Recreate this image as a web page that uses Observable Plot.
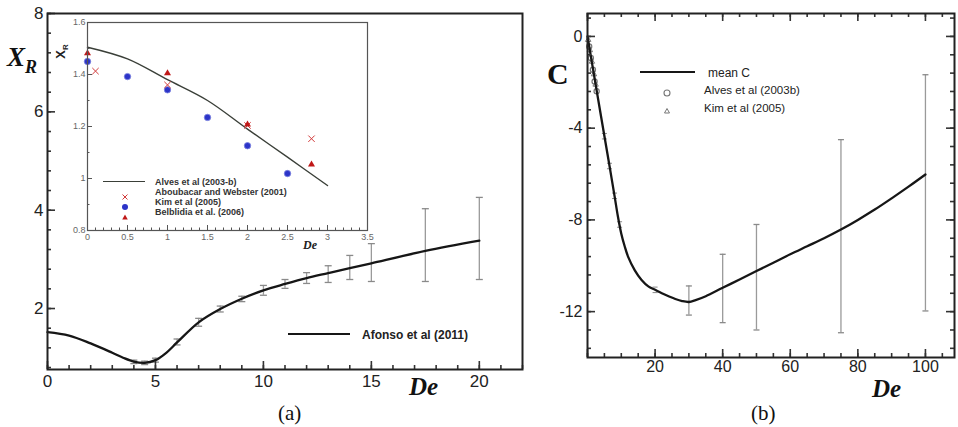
<!DOCTYPE html>
<html><head><meta charset="utf-8">
<script src="https://cdn.jsdelivr.net/npm/d3@7"></script>
<script src="https://cdn.jsdelivr.net/npm/@observablehq/plot@0.6"></script>
<style>
body{margin:0;background:#fff;}
#wrap{position:relative;width:958px;height:427px;overflow:hidden;font-family:"Liberation Sans",Arial,sans-serif;background:#fff;}
.abs{position:absolute;white-space:nowrap;line-height:1;}
#wrap > svg{position:absolute;}
</style></head><body><div id="wrap">
<div class="abs" style="left:7px;top:42px;font:italic bold 27px 'Liberation Serif';color:#111">X<span style="font-size:18px;position:relative;top:7px">R</span></div>
<div class="abs" style="left:409px;top:373px;font:italic bold 25px 'Liberation Serif';color:#111">De</div>
<div class="abs" style="left:278px;top:401px;font:21px 'Liberation Serif';color:#111">(a)</div>
<div class="abs" style="left:547px;top:57px;font:bold 30px 'Liberation Serif';color:#111">C</div>
<div class="abs" style="left:872px;top:375px;font:italic bold 25px 'Liberation Serif';color:#111">De</div>
<div class="abs" style="left:751px;top:401px;font:21px 'Liberation Serif';color:#111">(b)</div>
</div>
<script>
// ---------- Panel (a): main curve (Afonso et al 2011) ----------
const afonsoDe = [0, 1, 2, 3, 3.5, 4, 4.5, 5, 5.5, 6, 7, 8, 9, 10, 11, 12, 13, 14, 15, 17.5, 20];
const afonsoXR = [1.52, 1.45, 1.29, 1.10, 1.0, 0.92, 0.895, 0.95, 1.1, 1.31, 1.72, 1.99, 2.2, 2.37, 2.5, 2.62, 2.72, 2.82, 2.92, 3.17, 3.38];
const aErrDe = [4, 4.5, 5, 6, 7, 8, 9, 10, 11, 12, 13, 14, 15, 17.5, 20];
const aErrLo = [0.88, 0.86, 0.91, 1.26, 1.64, 1.93, 2.14, 2.27, 2.41, 2.51, 2.53, 2.59, 2.55, 2.55, 2.59];
const aErrHi = [0.95, 0.93, 0.99, 1.38, 1.8, 2.05, 2.25, 2.47, 2.59, 2.73, 2.87, 3.08, 3.32, 4.03, 4.26];
const aTicksX = [0, 5, 10, 15, 20];
const aTicksY = [2, 4, 6, 8];

// ---------- Inset ----------
const alvesDe = [0, 0.5, 1, 1.5, 2, 2.5, 3];
const alvesXR = [1.505, 1.46, 1.38, 1.30, 1.19, 1.082, 0.973];
const kimDe = [0, 0.5, 1, 1.5, 2, 2.5];
const kimXR = [1.45, 1.392, 1.341, 1.235, 1.126, 1.019];
const aboubDe = [0.1, 1, 2, 2.8];
const aboubXR = [1.413, 1.36, 1.204, 1.153];
const belbDe = [0, 1, 2, 2.8];
const belbXR = [1.482, 1.405, 1.208, 1.054];
const inTicksX = [0, 0.5, 1, 1.5, 2, 2.5, 3, 3.5];
const inTicksY = [0.8, 1, 1.2, 1.4, 1.6];

// ---------- Panel (b): mean C ----------
const cDe = [0, 2, 4, 6, 8, 9, 10, 11, 12, 14, 16, 18, 20, 22, 24, 26, 28, 30, 32, 35, 40, 45, 50, 55, 60, 65, 70, 75, 80, 85, 90, 95, 100];
const cVal = [0, -1.74, -3.48, -5.2, -6.95, -7.85, -8.6, -9.15, -9.6, -10.2, -10.62, -10.9, -11.05, -11.2, -11.33, -11.45, -11.54, -11.58, -11.5, -11.33, -10.96, -10.6, -10.23, -9.87, -9.5, -9.15, -8.8, -8.42, -8.0, -7.55, -7.06, -6.55, -6.02];
const bErrDe = [30, 40, 50, 75, 100];
const bErrLo = [-12.15, -12.48, -12.8, -12.92, -11.97];
const bErrHi = [-10.88, -9.5, -8.2, -4.5, -1.67];
const bSmallDe = [5, 6.5, 8, 9.5, 20];
const bSmallC = [-4.35, -5.65, -6.95, -8.2, -11.05];
const bAlvesDe = [0.5, 1.0, 1.6, 2.1, 2.7];
const bAlvesC = [-0.44, -0.94, -1.45, -1.96, -2.39];
const bKimDe = [0.2, 0.7, 1.3, 1.9, 2.4];
const bKimC = [-0.15, -0.6, -1.1, -1.65, -2.1];
const bTicksX = [20, 40, 60, 80, 100];
const bTicksY = [0, -4, -8, -12];

const wrap = document.getElementById("wrap");
const zip = (xs, ys) => xs.map((x, i) => ({x, y: ys[i]}));
const zip3 = (xs, lo, hi) => xs.map((x, i) => ({x, lo: lo[i], hi: hi[i]}));
const cap = w => ({draw(ctx) { ctx.moveTo(-w, 0); ctx.lineTo(w, 0); }});
const fmt = d => String(d);

function tickMarks({xMaj, xMin, yMaj, yMin, iw, ih, Lmaj, Lmin, mirror, stroke, sw}) {
  const o = {stroke, strokeWidth: sw};
  const m = [
    Plot.tickX(xMaj, {x: d => d, insetTop: ih - Lmaj, ...o}),
    Plot.tickX(xMin, {x: d => d, insetTop: ih - Lmin, ...o}),
    Plot.tickY(yMaj, {y: d => d, insetRight: iw - Lmaj, ...o}),
    Plot.tickY(yMin, {y: d => d, insetRight: iw - Lmin, ...o})
  ];
  if (mirror) m.push(
    Plot.tickX(xMaj, {x: d => d, insetBottom: ih - Lmaj, ...o}),
    Plot.tickX(xMin, {x: d => d, insetBottom: ih - Lmin, ...o}),
    Plot.tickY(yMaj, {y: d => d, insetLeft: iw - Lmaj, ...o}),
    Plot.tickY(yMin, {y: d => d, insetLeft: iw - Lmin, ...o})
  );
  return m;
}

function place(svg, left, top) {
  svg.style.left = left + "px";
  svg.style.top = top + "px";
  wrap.appendChild(svg);
}

// ----- Panel (a) -----
{
  const W = 540, H = 400, ml = 47, mr = 18, mt = 13, mb = 31;
  const iw = W - ml - mr, ih = H - mt - mb;
  const err = zip3(aErrDe, aErrLo, aErrHi);
  const p = Plot.plot({
    width: W, height: H, marginLeft: ml, marginRight: mr, marginTop: mt, marginBottom: mb,
    style: {fontSize: "17px", fontFamily: "Liberation Sans, Arial, sans-serif", background: "transparent", color: "#222", overflow: "visible"},
    x: {domain: [0, 22], axis: null},
    y: {domain: [0.76, 8], axis: null},
    marks: [
      Plot.ruleX(err, {x: "x", y1: "lo", y2: "hi", stroke: "#9a9a9a", strokeWidth: 1.3}),
      Plot.dot(err, {x: "x", y: "lo", symbol: cap(3.5), stroke: "#8a8a8a", fill: "none", strokeWidth: 1.3}),
      Plot.dot(err, {x: "x", y: "hi", symbol: cap(3.5), stroke: "#8a8a8a", fill: "none", strokeWidth: 1.3}),
      Plot.line(zip(afonsoDe, afonsoXR), {x: "x", y: "y", curve: "catmull-rom", stroke: "#161616", strokeWidth: 2.3}),
      ...tickMarks({xMaj: aTicksX, xMin: d3.range(0, 23, 1), yMaj: aTicksY, yMin: d3.range(2, 21).map(i => i * 0.4),
        iw, ih, Lmaj: 8, Lmin: 4, mirror: false, stroke: "#333", sw: 1.6}),
      Plot.axisX(aTicksX, {tickSize: 0, tickPadding: 5, label: null, tickFormat: fmt}),
      Plot.axisY(aTicksY, {tickSize: 0, tickPadding: 4, label: null, tickFormat: fmt}),
      Plot.frame({stroke: "#222", strokeWidth: 2})
    ]
  });
  place(p, 0, 0);
}

// ----- Inset -----
{
  const L = 50, T = 10, W = 330, H = 245;
  const ml = 87 - L, mt = 22 - T, mr = W - (367 - L), mb = H - (230 - T);
  const iw = W - ml - mr, ih = H - mt - mb;
  const p = Plot.plot({
    width: W, height: H, marginLeft: ml, marginRight: mr, marginTop: mt, marginBottom: mb,
    style: {fontSize: "9px", fontFamily: "Liberation Sans, Arial, sans-serif", background: "transparent", color: "#666", overflow: "visible"},
    x: {domain: [0, 3.5], axis: null},
    y: {domain: [0.8, 1.6], axis: null},
    marks: [
      Plot.frame({fill: "white"}),
      Plot.line(zip(alvesDe, alvesXR), {x: "x", y: "y", curve: "catmull-rom", stroke: "#3a3f38", strokeWidth: 1.4}),
      Plot.dot(zip(kimDe, kimXR), {x: "x", y: "y", r: 3.2, fill: "#2c34c8", stroke: "#7a82e0", strokeWidth: 0.8}),
      Plot.dot(zip(aboubDe, aboubXR), {x: "x", y: "y", symbol: "times", r: 3, stroke: "#d23a3a", strokeWidth: 1}),
      Plot.dot(zip(belbDe, belbXR), {x: "x", y: "y", symbol: "triangle", r: 2.6, fill: "#c01818", stroke: "none"}),
      ...tickMarks({xMaj: inTicksX, xMin: d3.range(0, 36).map(i => i / 10), yMaj: inTicksY, yMin: d3.range(8, 17).map(i => i / 10),
        iw, ih, Lmaj: 5, Lmin: 2.5, mirror: false, stroke: "#555", sw: 1}),
      Plot.axisX(inTicksX, {tickSize: 0, tickPadding: 3, label: null, tickFormat: fmt}),
      Plot.axisY(inTicksY, {tickSize: 0, tickPadding: 2, label: null, tickFormat: fmt}),
      Plot.frame({stroke: "#555", strokeWidth: 1.2})
    ]
  });
  place(p, L, T);
}

// ----- Panel (b) -----
{
  const L = 540, W = 418, H = 400, ml = 47, mr = 4, mt = 13, mb = 43;
  const iw = W - ml - mr, ih = H - mt - mb;
  const err = zip3(bErrDe, bErrLo, bErrHi);
  const small = zip3(bSmallDe, bSmallC.map(v => v - 0.12), bSmallC.map(v => v + 0.12));
  const p = Plot.plot({
    width: W, height: H, marginLeft: ml, marginRight: mr, marginTop: mt, marginBottom: mb,
    style: {fontSize: "16px", fontFamily: "Liberation Sans, Arial, sans-serif", background: "transparent", color: "#222", overflow: "visible"},
    x: {domain: [0, 108.6], axis: null},
    y: {domain: [-14, 1], axis: null},
    marks: [
      Plot.ruleX(err, {x: "x", y1: "lo", y2: "hi", stroke: "#9a9a9a", strokeWidth: 1.3}),
      Plot.dot(err, {x: "x", y: "lo", symbol: cap(3), stroke: "#8a8a8a", fill: "none", strokeWidth: 1.3}),
      Plot.dot(err, {x: "x", y: "hi", symbol: cap(3), stroke: "#8a8a8a", fill: "none", strokeWidth: 1.3}),
      Plot.dot(small, {x: "x", y: "lo", symbol: cap(2.5), stroke: "#888", fill: "none", strokeWidth: 1}),
      Plot.dot(small, {x: "x", y: "hi", symbol: cap(2.5), stroke: "#888", fill: "none", strokeWidth: 1}),
      Plot.dot(zip(bAlvesDe, bAlvesC), {x: "x", y: "y", r: 2.6, stroke: "#777", fill: "none", strokeWidth: 1.2}),
      Plot.dot(zip(bKimDe, bKimC), {x: "x", y: "y", symbol: "triangle", r: 2, stroke: "#777", fill: "none", strokeWidth: 1}),
      Plot.line(zip(cDe, cVal), {x: "x", y: "y", curve: "catmull-rom", stroke: "#161616", strokeWidth: 2.3}),
      ...tickMarks({xMaj: [0, ...bTicksX], xMin: d3.range(0, 22).map(i => i * 5), yMaj: bTicksY, yMin: d3.range(-17, 2).map(i => i * 0.8),
        iw, ih, Lmaj: 8, Lmin: 4, mirror: true, stroke: "#333", sw: 1.6}),
      Plot.axisX(bTicksX, {tickSize: 0, tickPadding: 3, label: null, tickFormat: fmt}),
      Plot.axisY(bTicksY, {tickSize: 0, tickPadding: 5, label: null, tickFormat: fmt}),
      Plot.frame({stroke: "#222", strokeWidth: 2})
    ]
  });
  place(p, L, 0);
}

// ----- HTML legends and inset labels -----
function addDiv(html, style) {
  const d = document.createElement("div");
  d.className = "abs";
  d.setAttribute("style", style);
  d.innerHTML = html;
  wrap.appendChild(d);
}
// panel (a) legend
addDiv("", "left:288px;top:333px;width:62px;border-top:2.3px solid #161616");
addDiv("Afonso et al (2011)", "left:362px;top:328px;font:bold 12px 'Liberation Sans';color:#222");
// inset labels
addDiv("X<span style='font-size:8px;position:relative;top:3px'>R</span>", "left:53px;top:44px;font:bold 13px 'Liberation Sans';color:#222;transform:rotate(-90deg);transform-origin:center");
addDiv("De", "left:303px;top:238px;font:italic bold 12px 'Liberation Serif';color:#222");
// inset legend
const inLegend = ["Alves et al (2003-b)", "Aboubacar and Webster (2001)", "Kim et al (2005)", "Belblidia et al. (2006)"];
const inLegendY = [182, 192, 202, 212];
addDiv("", "left:103px;top:181px;width:42px;border-top:1.4px solid #3a3f38");
inLegend.forEach((t, i) => addDiv(t, `left:155px;top:${inLegendY[i] - 5}px;font:bold 9px 'Liberation Sans';color:#333`));
addDiv("<svg width='8' height='8'><path d='M1.5,1.5L6.5,6.5M6.5,1.5L1.5,6.5' stroke='#d23a3a' stroke-width='1'/></svg>", "left:121px;top:188px");
addDiv("<svg width='8' height='8'><circle cx='4' cy='4' r='3' fill='#2c34c8'/></svg>", "left:121px;top:198px");
addDiv("<svg width='8' height='8'><path d='M4,1.5L6.8,6.5L1.2,6.5Z' fill='#c01818'/></svg>", "left:121px;top:208px");
// panel (b) legend
addDiv("", "left:640px;top:71px;width:55px;border-top:2.5px solid #161616");
addDiv("mean C", "left:708px;top:66px;font:12px 'Liberation Sans';color:#222");
addDiv("Alves et al (2003b)", "left:704px;top:84px;font:11.5px 'Liberation Sans';color:#222");
addDiv("Kim et al (2005)", "left:704px;top:102px;font:11.5px 'Liberation Sans';color:#222");
addDiv("<svg width='10' height='10'><circle cx='5' cy='5' r='3' fill='none' stroke='#777' stroke-width='1.1'/></svg>", "left:662px;top:85px");
addDiv("<svg width='10' height='10'><path d='M5,2.5L7.5,7L2.5,7Z' fill='none' stroke='#777' stroke-width='1'/></svg>", "left:662px;top:103px");
</script>
</body></html>
